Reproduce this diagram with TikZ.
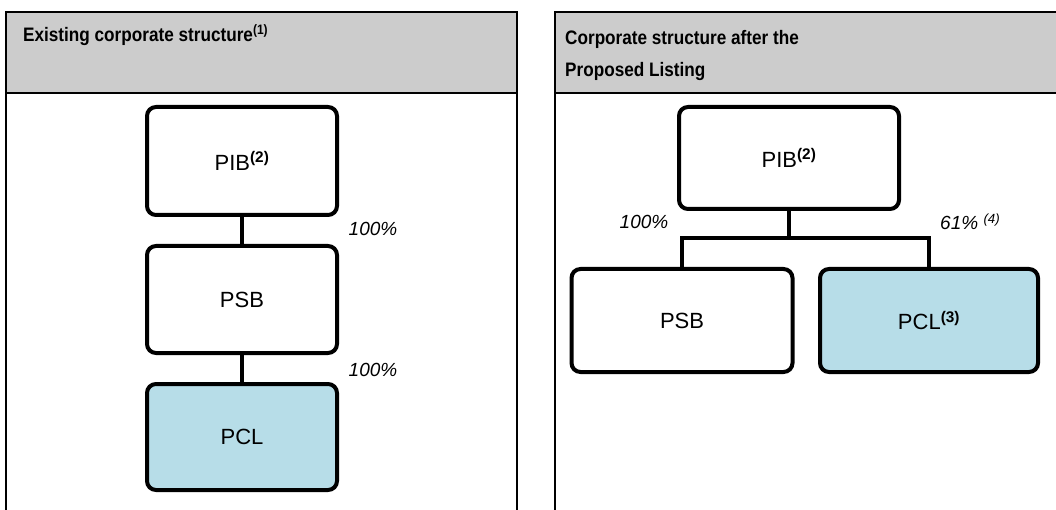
\documentclass[tikz,border=0pt]{standalone}
\usepackage{fontspec}
\setmainfont{Liberation Sans}
\newfontfamily\headfont[FakeStretch=0.88]{Liberation Sans}
\definecolor{headgray}{HTML}{CCCCCC}
\definecolor{listblue}{HTML}{B7DDE8}
\newcommand\supbold[1]{\textsuperscript{\bfseries #1}}
\begin{document}
\begin{tikzpicture}[x=1pt,y=-1pt,
  panel/.style={line width=2pt},
  title/.style={anchor=base west,inner sep=0pt,font=\headfont\fontsize{19.5}{23}\selectfont\bfseries},
  entity/.style={draw,line width=4pt,rounded corners=9pt,inner sep=0pt,
    font=\fontsize{22}{26}\selectfont},
  listed/.style={entity,fill=listblue},
  link/.style={line width=4pt},
  share/.style={inner sep=0pt,font=\fontsize{19}{22}\selectfont\itshape}]
\useasboundingbox (0,0) rectangle (1056,510);
\clip (0,0) rectangle (1056,510);

% left panel: current structure
\fill[headgray] (6,12) rectangle (517,93);
\draw[panel] (6,530) -- (6,12) -- (517,12) -- (517,530);
\draw[panel] (6,93) -- (517,93);
\node[title] (titleL) at (23,42) {Existing corporate structure\supbold{(1)}};

% right panel: structure after the listing
\fill[headgray] (555,12) rectangle (1070,93);
\draw[panel] (555,530) -- (555,12) -- (1070,12);
\draw[panel] (555,93) -- (1070,93);
\node[title] (titleRa) at (565,45) {Corporate structure after the};
\node[title] (titleRb) at (565,77) {Proposed Listing};

% entities, left
\node[entity,minimum width=190pt,minimum height=108pt] (pibL) at (242,161) {PIB\supbold{(2)}};
\node[entity,minimum width=190pt,minimum height=107pt] (psbL) at (242,299.5) {PSB};
\node[listed,minimum width=190pt,minimum height=106pt] (pclL) at (242,437) {PCL};
\draw[link] (pibL) -- (psbL);
\draw[link] (psbL) -- (pclL);
\node[share] (pctL1) at (373,229) {100\%};
\node[share] (pctL2) at (373,370) {100\%};

% entities, right
\node[entity,minimum width=220pt,minimum height=102pt] (pibR) at (789,158) {PIB\supbold{(2)}};
\node[entity,minimum width=221pt,minimum height=103pt] (psbR) at (682,320.5) {PSB};
\node[listed,minimum width=218pt,minimum height=103pt] (pclR) at (929,320.5) {PCL\supbold{(3)}};
\coordinate (split) at (789,238);
\draw[link] (pibR.south) -- (split);
\draw[link] (psbR.north) |- (split) -| (pclR.north);
\node[share] (pctR1) at (644,222) {100\%};
\node[share,anchor=west] (pctR2) at (940,222) {61\%~\textsuperscript{(4)}};
\end{tikzpicture}
\end{document}
